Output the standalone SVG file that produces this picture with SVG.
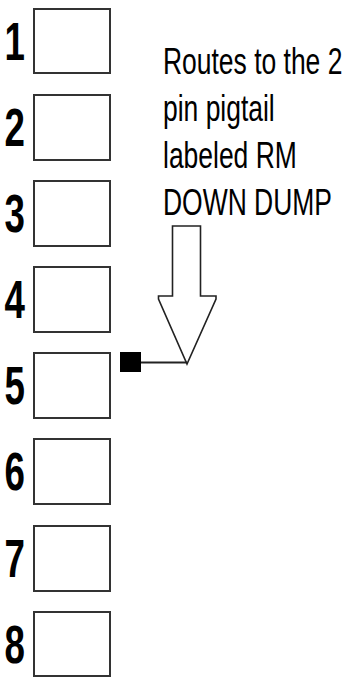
<svg xmlns="http://www.w3.org/2000/svg" width="348" height="677" viewBox="0 0 348 677">
<style>
.box{fill:#fff;stroke:#333;stroke-width:2}
.num{font-family:"Liberation Sans",Arial,sans-serif;font-weight:bold;font-size:54px;fill:#000;text-anchor:end}
.lbl{font-family:"Liberation Sans",Arial,sans-serif;font-size:36px;fill:#000}
</style>
<rect width="348" height="677" fill="#fff"/>
<g id="pin1"><rect class="box" x="34" y="9" width="76" height="64"/><text class="num" transform="translate(25,60) scale(0.68,1)">1</text></g>
<g id="pin2"><rect class="box" x="34" y="95" width="76" height="65"/><text class="num" transform="translate(25,146) scale(0.68,1)">2</text></g>
<g id="pin3"><rect class="box" x="34" y="181" width="76" height="65"/><text class="num" transform="translate(25,232) scale(0.68,1)">3</text></g>
<g id="pin4"><rect class="box" x="34" y="267" width="76" height="65"/><text class="num" transform="translate(25,318) scale(0.68,1)">4</text></g>
<g id="pin5"><rect class="box" x="34" y="353" width="76" height="65"/><text class="num" transform="translate(25,404) scale(0.68,1)">5</text></g>
<g id="pin6"><rect class="box" x="34" y="439" width="76" height="65"/><text class="num" transform="translate(25,490) scale(0.68,1)">6</text></g>
<g id="pin7"><rect class="box" x="34" y="526" width="76" height="65"/><text class="num" transform="translate(25,577) scale(0.68,1)">7</text></g>
<g id="pin8"><rect class="box" x="34" y="612" width="76" height="64"/><text class="num" transform="translate(25,663) scale(0.68,1)">8</text></g>
<g id="label" transform="translate(163,0) scale(0.735,1)">
<text class="lbl" x="0" y="74">Routes to the 2</text>
<text class="lbl" x="0" y="121">pin pigtail</text>
<text class="lbl" x="0" y="168">labeled RM</text>
<text class="lbl" x="0" y="215">DOWN DUMP</text>
</g>
<g id="arrow">
<polygon points="172.5,226 200.5,226 200.5,296 216,296 216,299 187,364 158.5,299 158.5,296 172.5,296" fill="#fff" stroke="#222" stroke-width="1.6"/>
</g>
<g id="connectors">
<rect x="120" y="352" width="21" height="20" fill="#000"/>
<line x1="141" y1="362.5" x2="187" y2="362.5" stroke="#222" stroke-width="2"/>
</g>
</svg>
